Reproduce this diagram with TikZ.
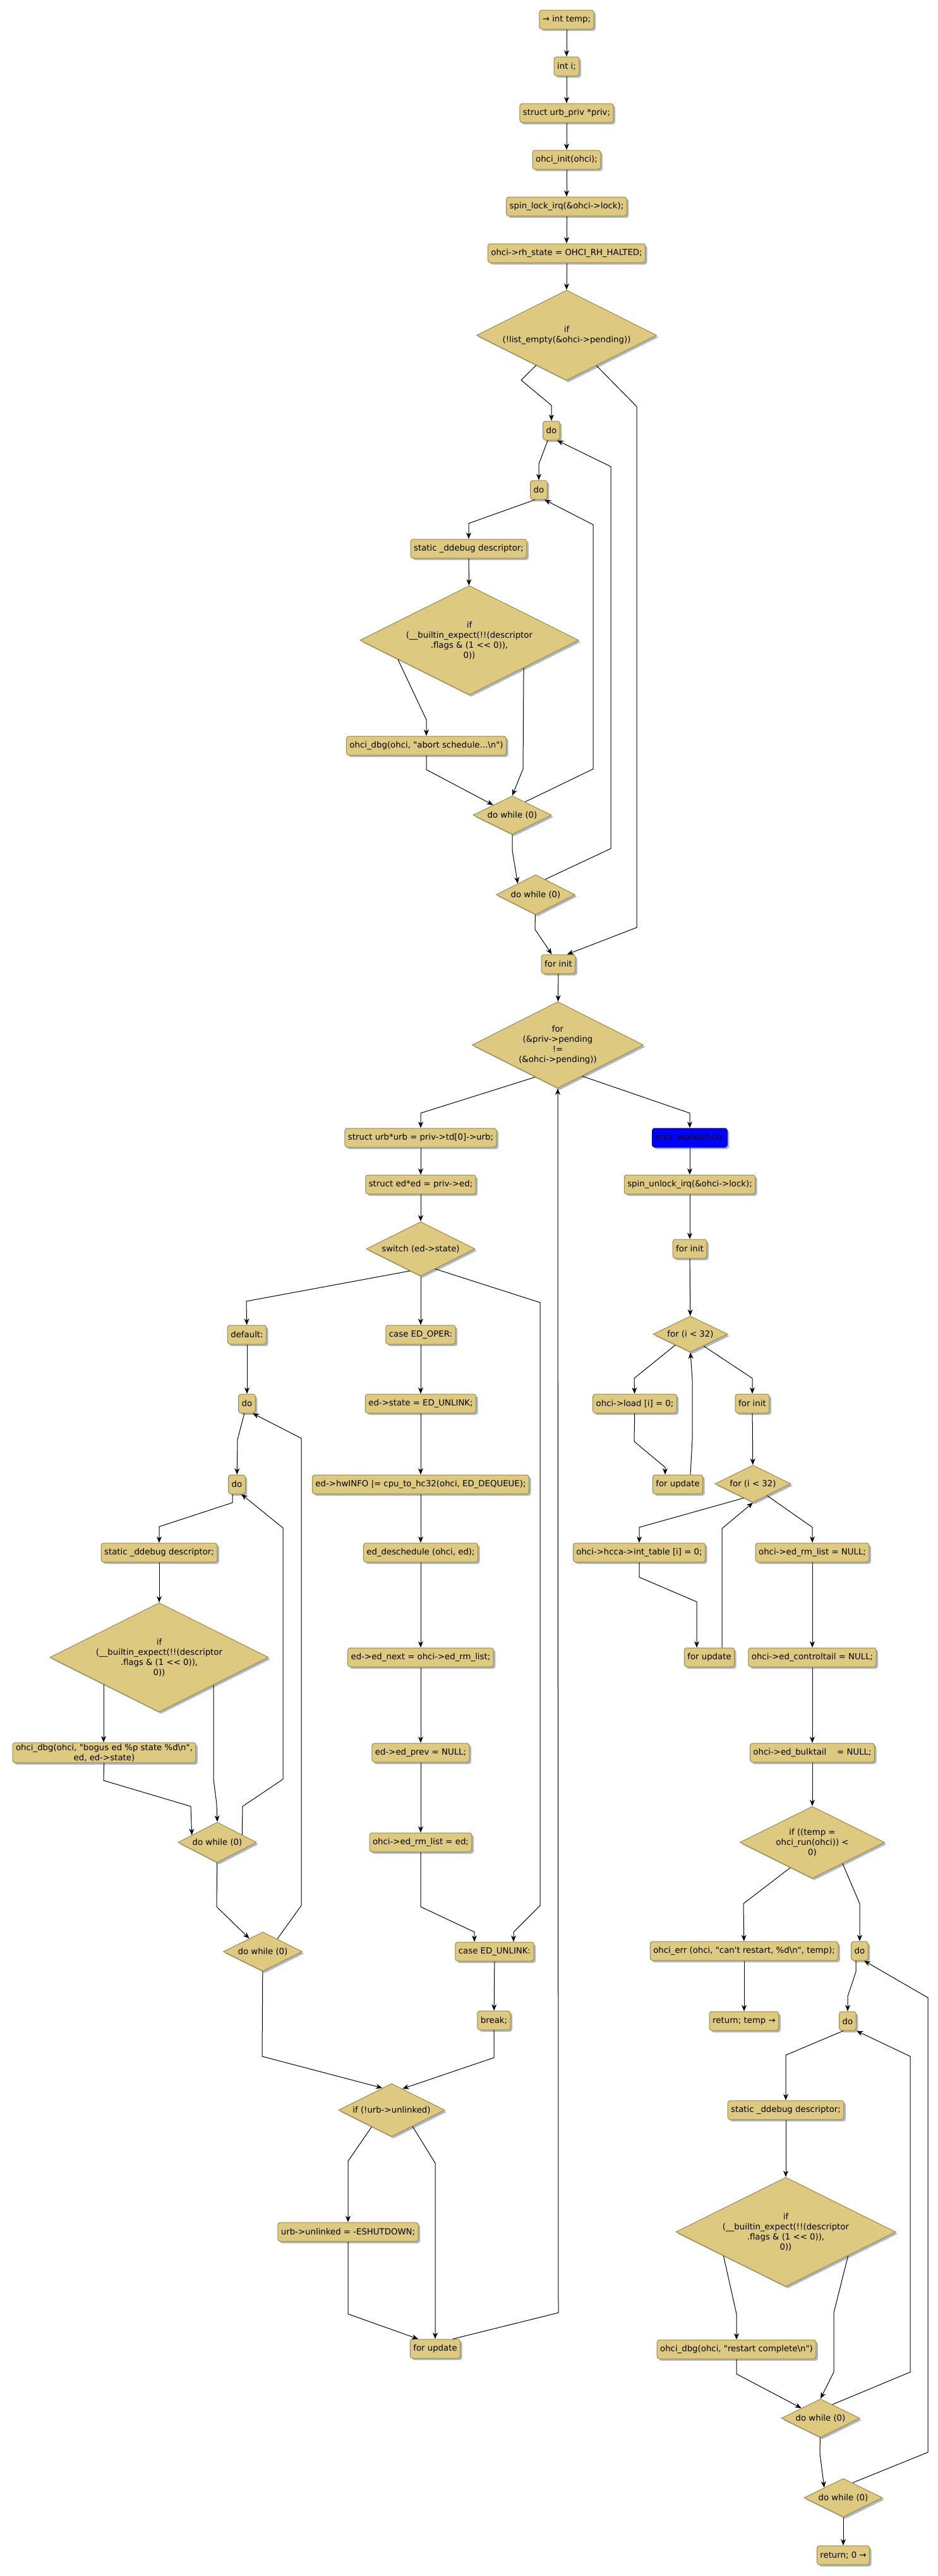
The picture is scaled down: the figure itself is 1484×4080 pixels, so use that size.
\documentclass[tikz,border=0pt]{standalone}
\usepackage{fontspec}
\setmainfont{DejaVu Sans}[Ligatures=TeXOff]
\usetikzlibrary{shapes.geometric,shadows,arrows.meta}
\definecolor{boxfill}{RGB}{221,201,127}
\definecolor{boxline}{RGB}{156,138,62}
\definecolor{shadowc}{RGB}{169,182,212}
\tikzset{
  shd/.style={drop shadow={shadow xshift=3pt,shadow yshift=-3pt,fill=shadowc,opacity=1}},
  stm/.style={shd,draw=boxline,fill=boxfill,rounded corners=4pt,line width=1pt,minimum height=30pt,inner xsep=5pt,inner ysep=2pt,align=center},
  bluebox/.style={stm,fill=blue,draw=blue!60!black},
  dec/.style={shd,diamond,aspect=2,draw=boxline,fill=boxfill,line width=1pt,inner sep=0pt,align=center},
  arr/.style={-{Stealth[length=10pt,width=8pt,inset=3pt]},line width=1pt,black}
}
\begin{document}
\begin{tikzpicture}[x=1pt,y=-1pt,font=\fontsize{13.3}{16}\selectfont]
\useasboundingbox (0,0) rectangle (1484,4080);
% ---------- top column
\node[stm] (n1) at (897,31) {→ int temp;};
\node[stm] (n2) at (897,105) {int i;};
\node[stm] (n3) at (897,179) {struct urb\_priv *priv;};
\node[stm] (n4) at (897,253) {ohci\_init(ohci);};
\node[stm] (n5) at (897,327) {spin\_lock\_irq(\&ohci->lock);};
\node[stm] (n6) at (897,401) {ohci->rh\_state = OHCI\_RH\_HALTED;};
\node[dec,minimum width=285pt,minimum height=143pt] (d1) at (897,531) {if\\(!list\_empty(\&ohci->pending))};
\node[stm] (do1) at (873,682) {do};
\node[stm] (do2) at (853,776) {do};
\node[stm] (s1) at (742,869) {static \_ddebug descriptor;};
\node[dec,minimum width=346pt,minimum height=173pt] (d2) at (743,1014) {if\\(\_\_builtin\_expect(!!(descriptor\\.flags \& (1 << 0)),\\0))};
\node[stm] (b1) at (675,1181) {ohci\_dbg(ohci, "abort schedule...\textbackslash n")};
\node[dec,minimum width=124pt,minimum height=61pt] (w1) at (811,1291) {do while (0)};
\node[dec,minimum width=125pt,minimum height=63pt] (w2) at (848,1417) {do while (0)};
\node[stm] (fi1) at (884,1527) {for init};
\node[dec,minimum width=271pt,minimum height=137pt] (d3) at (883,1655) {for\\(\&priv->pending\\!=\\(\&ohci->pending))};
% ---------- middle column
\node[stm] (u1) at (666,1802) {struct urb*urb = priv->td[0]->urb;};
\node[stm] (u2) at (666,1876) {struct ed*ed = priv->ed;};
\node[dec,minimum width=172pt,minimum height=86pt] (sw) at (666,1978) {switch (ed->state)};
\node[stm] (c1) at (666,2114) {case ED\_OPER:};
\node[stm] (e1) at (666,2223) {ed->state = ED\_UNLINK;};
\node[stm] (e2) at (666,2351) {ed->hwINFO |= cpu\_to\_hc32(ohci, ED\_DEQUEUE);};
\node[stm] (e3) at (666,2459) {ed\_deschedule (ohci, ed);};
\node[stm] (e4) at (666,2625) {ed->ed\_next = ohci->ed\_rm\_list;};
\node[stm] (e5) at (666,2776) {ed->ed\_prev = NULL;};
\node[stm] (e6) at (666,2918) {ohci->ed\_rm\_list = ed;};
\node[stm] (c2) at (783,3091) {case ED\_UNLINK:};
\node[stm] (brk) at (782,3200) {break;};
\node[dec,minimum width=168pt,minimum height=84pt] (d5) at (620,3342) {if (!urb->unlinked)};
\node[stm] (ul) at (551,3535) {urb->unlinked = -ESHUTDOWN;};
\node[stm] (fu1) at (689,3720) {for update};
% ---------- left column
\node[stm] (def) at (391,2114) {default:};
\node[stm] (do3) at (391,2223) {do};
\node[stm] (do4) at (375,2351) {do};
\node[stm] (s2) at (252,2459) {static \_ddebug descriptor;};
\node[dec,minimum width=346pt,minimum height=173pt] (d4) at (252,2625) {if\\(\_\_builtin\_expect(!!(descriptor\\.flags \& (1 << 0)),\\0))};
\node[stm] (b2) at (165,2776) {ohci\_dbg(ohci, "bogus ed \%p state \%d\textbackslash n",\\ed, ed->state)};
\node[dec,minimum width=124pt,minimum height=64pt] (w3) at (344,2918) {do while (0)};
\node[dec,minimum width=125pt,minimum height=62pt] (w4) at (416,3091) {do while (0)};
% ---------- right column
\node[bluebox] (wk) at (1092,1802) {ohci\_work(ohci);};
\node[stm] (su) at (1092,1876) {spin\_unlock\_irq(\&ohci->lock);};
\node[stm] (fi2) at (1092,1978) {for init};
\node[dec,minimum width=118pt,minimum height=57pt] (d6) at (1093,2113) {for (i < 32)};
\node[stm] (ld) at (1005,2223) {ohci->load [i] = 0;};
\node[stm] (fi3) at (1191,2223) {for init};
\node[stm] (fu2) at (1073,2351) {for update};
\node[dec,minimum width=120pt,minimum height=59pt] (d7) at (1192,2350) {for (i < 32)};
\node[stm] (it) at (1012,2459) {ohci->hcca->int\_table [i] = 0;};
\node[stm] (rl) at (1286,2459) {ohci->ed\_rm\_list = NULL;};
\node[stm] (fu3) at (1123,2625) {for update};
\node[stm] (ct) at (1286,2625) {ohci->ed\_controltail = NULL;};
\node[stm] (bt) at (1286,2776) {ohci->ed\_bulktail\ \ \ \ = NULL;};
\node[dec,minimum width=229pt,minimum height=114pt] (d8) at (1286,2918) {if ((temp =\\ohci\_run(ohci)) <\\0)};
\node[stm] (er) at (1178,3090) {ohci\_err (ohci, "can't restart, \%d\textbackslash n", temp);};
\node[stm] (rt) at (1178,3201) {return; temp →};
\node[stm] (do5) at (1361,3090) {do};
\node[stm] (do6) at (1342,3201) {do};
\node[stm] (s3) at (1244,3342) {static \_ddebug descriptor;};
\node[dec,minimum width=348pt,minimum height=173pt] (d9) at (1244,3535) {if\\(\_\_builtin\_expect(!!(descriptor\\.flags \& (1 << 0)),\\0))};
\node[stm] (b3) at (1166,3721) {ohci\_dbg(ohci, "restart complete\textbackslash n")};
\node[dec,minimum width=124pt,minimum height=61pt] (w5) at (1299,3830) {do while (0)};
\node[dec,minimum width=124pt,minimum height=61pt] (w6) at (1335,3956) {do while (0)};
\node[stm] (r0) at (1335,4047) {return; 0 →};
% ---------- connectors: top
\draw[arr] (n1) -- (n2);
\draw[arr] (n2) -- (n3);
\draw[arr] (n3) -- (n4);
\draw[arr] (n4) -- (n5);
\draw[arr] (n5) -- (n6);
\draw[arr] (n6) -- (d1);
\draw[arr] (d1) -- (825,602) -- (873,642) -- (do1);
\draw[arr] (d1) -- (1008,644) -- (1008,1469) -- ([xshift=14pt]fi1.north);
\draw[arr] (do1) -- (853,735) -- (do2);
\draw[arr] ([xshift=-6pt]do2.south) -- (742,829) -- (s1);
\draw[arr] (s1) -- (d2);
\draw[arr] (d2.195) -- (675,1140) -- (b1);
\draw[arr] (d2.-27) -- (828,1218) -- (w1.north);
\draw[arr] (b1) -- (675,1219) -- (w1);
\draw[arr] (w1.46) -- (939,1218) -- (939,831) -- ([xshift=9pt]do2.south);
\draw[arr] (w1) -- (811,1347) -- (w2.148);
\draw[arr] (w2.58) -- (967,1344) -- (967,739) -- ([xshift=9pt]do1.south);
\draw[arr] (w2) -- (847,1472) -- (fi1);
\draw[arr] (fi1) -- (d3);
\draw[arr] (d3.235) -- (666,1763) -- (u1);
\draw[arr] (d3.-52) -- (1092,1763) -- (wk);
% ---------- middle
\draw[arr] (u1) -- (u2);
\draw[arr] (u2) -- (sw);
\draw[arr] (sw.244) -- (390,2061) -- (def);
\draw[arr] (sw) -- (c1);
\draw[arr] (sw.-54) -- (855,2063) -- (855,3018) -- (813,3060) -- ([xshift=30pt]c2.north);
\draw[arr] (c1) -- (e1);
\draw[arr] (e1) -- (e2);
\draw[arr] (e2) -- (e3);
\draw[arr] (e3) -- (e4);
\draw[arr] (e4) -- (e5);
\draw[arr] (e5) -- (e6);
\draw[arr] (e6) -- (666,3020) -- (751,3060) -- ([xshift=-32pt]c2.north);
\draw[arr] (c2) -- (brk);
\draw[arr] (brk) -- (782,3259) -- (d5.63);
\draw[arr] (w4) -- (415,3257) -- (d5.113);
\draw[arr] (d5.220) -- (551,3423) -- (ul);
\draw[arr] (d5.-38) -- (689,3426) -- (fu1);
\draw[arr] (ul) -- (551,3665) -- ([xshift=-27pt]fu1.north);
\draw[arr] ([xshift=28pt]fu1.north) -- (884,3663) -- (d3.south);
% ---------- left
\draw[arr] (def) -- (do3);
\draw[arr] (do3) -- (376,2280) -- (do4);
\draw[arr] ([xshift=-7pt]do4.south) -- (368,2380) -- (252,2418) -- (s2);
\draw[arr] (s2) -- (d4);
\draw[arr] (d4.206) -- (d4.206 |- b2.north);
\draw[arr] (d4.-27) -- (338,2818) -- (343,2857) -- (w3.north);
\draw[arr] (b2) -- (164,2820) -- (302,2861) -- (w3.164);
\draw[arr] (w3.17) -- (384,2861) -- (448,2818) -- (448,2420) -- ([xshift=7pt]do4.south);
\draw[arr] (w3) -- (343,3020) -- (w4);
\draw[arr] (w4.41) -- (477,3018) -- (477,2278) -- ([xshift=9pt]do3.south);
% ---------- right
\draw[arr] (wk) -- (su);
\draw[arr] (su) -- (fi2);
\draw[arr] (fi2) -- (d6);
\draw[arr] (d6.216) -- (1004,2183) -- (ld);
\draw[arr] (d6.-42) -- (1191,2183) -- (fi3);
\draw[arr] (ld) -- (1004,2283) -- (1053,2324) -- ([xshift=-20pt]fu2.north);
\draw[arr] ([xshift=20pt]fu2.north) -- (1096,2280) -- (1096,2184) -- (d6.south);
\draw[arr] (fi3) -- (d7);
\draw[arr] (d7.237) -- (1012,2419) -- (it);
\draw[arr] (d7.-40) -- (1286,2419) -- (rl);
\draw[arr] (it) -- (1012,2498) -- (1103,2537) -- ([xshift=-20pt]fu3.north);
\draw[arr] ([xshift=20pt]fu3.north) -- (1143,2421) -- (d7.south);
\draw[arr] (rl) -- (ct);
\draw[arr] (ct) -- (bt);
\draw[arr] (bt) -- (d8);
\draw[arr] (d8.229) -- (1177,3015) -- (er);
\draw[arr] (d8.-35) -- (1361,3015) -- (do5);
\draw[arr] (er) -- (rt);
\draw[arr] ([xshift=-6pt]do5.south) -- (1355,3123) -- (1342,3162) -- (do6);
\draw[arr] ([xshift=-7pt]do6.south) -- (1244,3255) -- (s3);
\draw[arr] (s3) -- (d9);
\draw[arr] (d9.201) -- (1166,3665) -- (b3);
\draw[arr] (d9.-21) -- (1320,3663) -- (1320,3757) -- (w5.north);
\draw[arr] (b3) -- (1166,3760) -- (w5);
\draw[arr] (w5.49) -- (1441,3757) -- (1441,3257) -- ([xshift=14pt]do6.south);
\draw[arr] (w5) -- (1298,3886) -- (w6.152);
\draw[arr] (w6.58) -- (1469,3884) -- (1469,3164) -- ([xshift=7pt]do5.south);
\draw[arr] (w6) -- (r0);
\end{tikzpicture}
\end{document}
